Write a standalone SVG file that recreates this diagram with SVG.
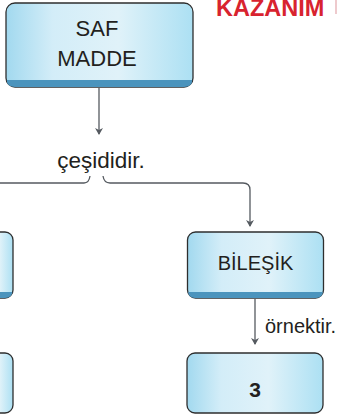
<svg xmlns="http://www.w3.org/2000/svg" width="337" height="414" viewBox="0 0 337 414">
<style>
.box{fill:url(#g);stroke:#2e2e2e;stroke-width:1.3}
.bar{fill:#4b94bd}
.t{font-family:"Liberation Sans",Arial,sans-serif;fill:#231f20}
.c{fill:none;stroke:#555a60;stroke-width:1.3}
</style>
<defs>
<linearGradient id="g" x1="0" y1="0" x2="1" y2="0">
<stop offset="0" stop-color="#a2d9ef"/>
<stop offset="0.25" stop-color="#d3edf8"/>
<stop offset="0.6" stop-color="#e0f2f9"/>
<stop offset="1" stop-color="#ace0f3"/>
</linearGradient>
<marker id="a" markerWidth="8" markerHeight="10" refX="6" refY="4" orient="auto" markerUnits="userSpaceOnUse">
<path d="M0,0 L7,4 L0,8 L2,4 Z" fill="#555a60"/>
</marker>
</defs>
<text x="216" y="16" class="t" style="font-weight:bold;font-size:23.5px;fill:#d8232f">KAZANIM</text>
<line x1="336" y1="0" x2="336" y2="14" stroke="#e8b8bc" stroke-width="1.5"/>
<g id="connectors">
<line class="c" x1="99" y1="88" x2="99" y2="134" marker-end="url(#a)"/>
<path class="c" d="M0,183 H84 Q89,183 90,176"/>
<path class="c" d="M103,176 Q104,183 110,183 H243 Q250,183 250,190 V226" marker-end="url(#a)"/>
<line class="c" x1="255" y1="299" x2="255" y2="344" marker-end="url(#a)"/>
</g>
<g id="saf-madde">
<rect class="box" x="6" y="3" width="187" height="84" rx="9"/>
<path class="bar" d="M6.6,80 H192.4 V79 Q192.4,87 184,87 H15 Q6.6,87 6.6,79 Z"/>
<text class="t" x="97" y="36" text-anchor="middle" font-size="22">SAF</text>
<text class="t" x="97" y="66" text-anchor="middle" font-size="22">MADDE</text>
</g>
<text class="t" x="101" y="168" text-anchor="middle" font-size="22.5">çeşididir.</text>
<g id="left-top">
<rect class="box" x="-20" y="232" width="33" height="66" rx="8"/>
<path class="bar" d="M-20,292 H12.4 V291 Q12.4,298 5,298 H-20 Z"/>
</g>
<g id="left-bottom">
<rect class="box" x="-20" y="353" width="33" height="60" rx="8"/>
</g>
<g id="bilesik">
<rect class="box" x="187.5" y="232" width="136" height="66" rx="8"/>
<path class="bar" d="M188.1,292 H322.9 V291 Q322.9,298 316,298 H195 Q188.1,298 188.1,291 Z"/>
<text class="t" x="255.5" y="270" text-anchor="middle" font-size="20">BİLEŞİK</text>
</g>
<text class="t" x="265" y="333" font-size="20">örnektir.</text>
<g id="n3">
<rect class="box" x="187" y="353" width="136" height="60" rx="8"/>
<text class="t" x="255" y="397" text-anchor="middle" font-size="21" font-weight="bold">3</text>
</g>
</svg>
